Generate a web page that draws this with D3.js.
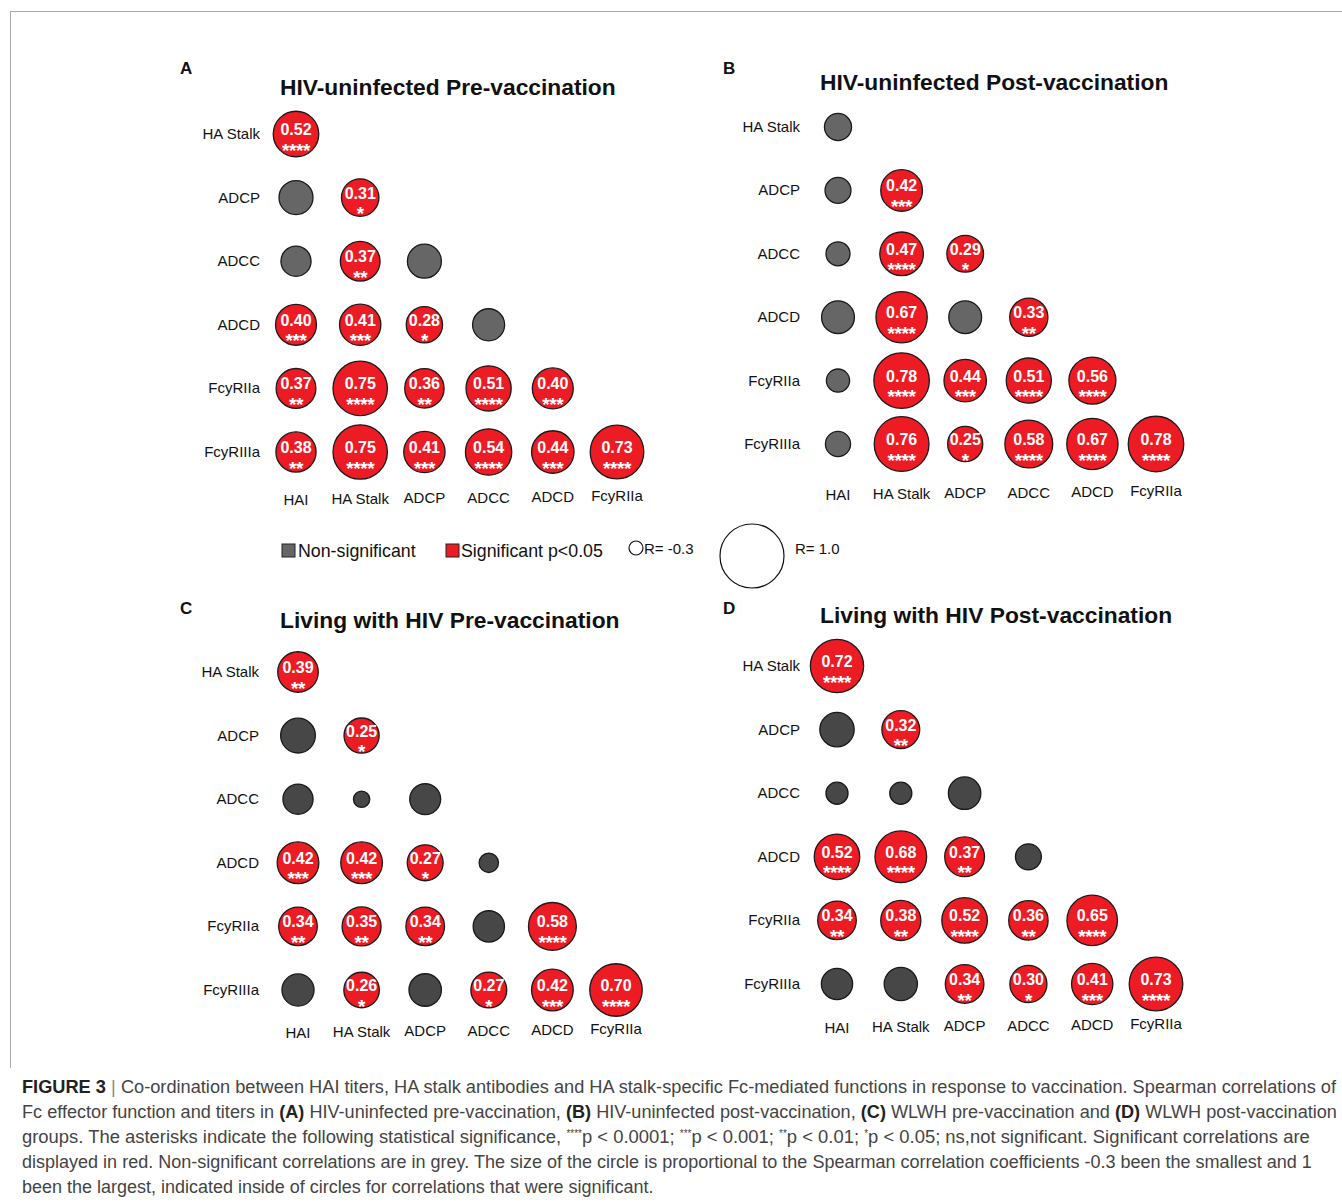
<!DOCTYPE html>
<html>
<head>
<meta charset="utf-8">
<script src="https://cdn.jsdelivr.net/npm/d3@7"></script>
<style>
  html, body { margin: 0; padding: 0; background: #fff; }
  svg { display: block; }
</style>
</head>
<body>
<svg id="chart" width="1342" height="1203"></svg>
<script>
// ---------- DATA ----------
const rowLabels = ["HA Stalk", "ADCP", "ADCC", "ADCD", "FcyRIIa", "FcyRIIIa"];
const colLabels = ["HAI", "HA Stalk", "ADCP", "ADCC", "ADCD", "FcyRIIa"];

const panelLetters = ["A", "B", "C", "D"];
const panelTitles = [
  "HIV-uninfected Pre-vaccination",
  "HIV-uninfected Post-vaccination",
  "Living with HIV Pre-vaccination",
  "Living with HIV Post-vaccination"
];

// Spearman R (lower triangle, row by row). Non-significant values estimated from circle size.
const valuesA = [
  [0.52],
  [0.22, 0.31],
  [0.12, 0.37, 0.22],
  [0.40, 0.41, 0.28, 0.17],
  [0.37, 0.75, 0.36, 0.51, 0.40],
  [0.38, 0.75, 0.41, 0.54, 0.44, 0.73]
];
const starsA = [
  [4],
  [0, 1],
  [0, 2, 0],
  [3, 3, 1, 0],
  [2, 4, 2, 4, 3],
  [2, 4, 3, 4, 3, 4]
];
const valuesB = [
  [0.04],
  [0.01, 0.42],
  [-0.04, 0.47, 0.29],
  [0.19, 0.67, 0.19, 0.33],
  [-0.06, 0.78, 0.44, 0.51, 0.56],
  [-0.01, 0.76, 0.25, 0.58, 0.67, 0.78]
];
const starsB = [
  [0],
  [0, 3],
  [0, 4, 1],
  [0, 4, 0, 2],
  [0, 4, 3, 4, 4],
  [0, 4, 1, 4, 4, 4]
];
const valuesC = [
  [0.39],
  [0.24, 0.25],
  [0.12, -0.24, 0.14],
  [0.42, 0.42, 0.27, -0.16],
  [0.34, 0.35, 0.34, 0.15, 0.58],
  [0.17, 0.26, 0.18, 0.27, 0.42, 0.70]
];
const starsC = [
  [2],
  [0, 1],
  [0, 0, 0],
  [3, 3, 1, 0],
  [2, 2, 2, 0, 4],
  [0, 1, 0, 1, 3, 4]
];
const valuesD = [
  [0.72],
  [0.23, 0.32],
  [-0.09, -0.09, 0.18],
  [0.52, 0.68, 0.37, 0.01],
  [0.34, 0.38, 0.52, 0.36, 0.65],
  [0.15, 0.20, 0.34, 0.30, 0.41, 0.73]
];
const starsD = [
  [4],
  [0, 2],
  [0, 0, 0],
  [4, 4, 2, 0],
  [2, 2, 4, 2, 4],
  [0, 0, 2, 1, 3, 4]
];

const legendLabels = ["Non-significant", "Significant p<0.05"];
const legendSizeValues = [-0.3, 1.0];
const sizeDomain = [-0.3, 1.0];

// ---------- LAYOUT ----------
const FONT = "'Liberation Sans', Arial, Helvetica, sans-serif";
const RED = "#ED1C24";
const GREY_TOP = "#666666";
const GREY_BOT = "#474747";

const panelLayout = [
  { x: [296, 617], y: [134, 452], title: [280, 95], letter: [180, 74], colY: 505, rowX: 260, grey: GREY_TOP },
  { x: [838, 1156], y: [127, 444], title: [820, 90], letter: [723, 74], colY: 500, rowX: 800, grey: GREY_TOP },
  { x: [298, 616], y: [672, 990], title: [280, 628], letter: [180, 614], colY: 1038, rowX: 259, grey: GREY_BOT },
  { x: [837, 1156], y: [666, 984], title: [820, 623], letter: [723, 614], colY: 1033, rowX: 800, grey: GREY_BOT }
];

const panelValues = [valuesA, valuesB, valuesC, valuesD];
const panelStars = [starsA, starsB, starsC, starsD];

const svg = d3.select("#chart");
const r = d3.scaleLinear().domain(sizeDomain).range([7, 32]);

// frame
svg.append("line").attr("x1", 10).attr("x2", 1342).attr("y1", 11.5).attr("y2", 11.5)
  .attr("stroke", "#aaaaaa").attr("stroke-width", 1);
svg.append("line").attr("x1", 10.5).attr("x2", 10.5).attr("y1", 11).attr("y2", 1068)
  .attr("stroke", "#aaaaaa").attr("stroke-width", 1);

panelLayout.forEach((L, p) => {
  const g = svg.append("g");
  const x = d3.scalePoint().domain(colLabels).range(L.x);
  const y = d3.scalePoint().domain(rowLabels).range(L.y);

  g.append("text").attr("x", L.letter[0]).attr("y", L.letter[1])
    .attr("font-family", FONT).attr("font-weight", "bold").attr("font-size", 17)
    .attr("fill", "#111").text(panelLetters[p]);

  g.append("text").attr("x", L.title[0]).attr("y", L.title[1])
    .attr("font-family", FONT).attr("font-weight", "bold").attr("font-size", 22.8)
    .attr("fill", "#111").text(panelTitles[p]);

  // row labels (y axis)
  g.selectAll(".rowlab").data(rowLabels).enter().append("text")
    .attr("x", L.rowX).attr("y", d => y(d) + 5)
    .attr("text-anchor", "end")
    .attr("font-family", FONT).attr("font-size", 15).attr("fill", "#111")
    .text(d => d);

  // column labels (x axis)
  g.selectAll(".collab").data(colLabels).enter().append("text")
    .attr("x", d => x(d)).attr("y", (d, i) => L.colY - i * 0.8)
    .attr("text-anchor", "middle")
    .attr("font-family", FONT).attr("font-size", 15).attr("fill", "#111")
    .text(d => d);

  const cells = [];
  panelValues[p].forEach((row, i) => {
    row.forEach((v, j) => {
      cells.push({ row: rowLabels[i], col: colLabels[j], v: v, s: panelStars[p][i][j] });
    });
  });

  const cg = g.selectAll(".cell").data(cells).enter().append("g")
    .attr("transform", d => `translate(${x(d.col)},${y(d.row)})`);

  cg.append("circle")
    .attr("r", d => r(d.v))
    .attr("fill", d => d.s > 0 ? RED : L.grey)
    .attr("stroke", "#1a1a1a").attr("stroke-width", 1.3);

  const sig = cg.filter(d => d.s > 0);
  sig.append("text").attr("y", 1).attr("text-anchor", "middle")
    .attr("font-family", FONT).attr("font-weight", "bold").attr("font-size", 16)
    .attr("fill", "#fff").text(d => d.v.toFixed(2));
  sig.append("text").attr("y", 22.5).attr("text-anchor", "middle")
    .attr("font-family", FONT).attr("font-weight", "bold").attr("font-size", 19)
    .attr("letter-spacing", -0.4)
    .attr("fill", "#fff").text(d => "*".repeat(d.s));
});

// ---------- LEGEND ----------
const lg = svg.append("g");
lg.append("rect").attr("x", 282).attr("y", 544).attr("width", 13).attr("height", 13)
  .attr("fill", GREY_TOP).attr("stroke", "#222").attr("stroke-width", 1);
lg.append("text").attr("x", 298).attr("y", 557).attr("font-family", FONT).attr("font-size", 17.8)
  .attr("fill", "#111").text(legendLabels[0]);
lg.append("rect").attr("x", 446).attr("y", 544).attr("width", 13).attr("height", 13)
  .attr("fill", RED).attr("stroke", "#222").attr("stroke-width", 1);
lg.append("text").attr("x", 461).attr("y", 557).attr("font-family", FONT).attr("font-size", 17.8)
  .attr("fill", "#111").text(legendLabels[1]);

lg.append("circle").attr("cx", 636).attr("cy", 548).attr("r", r(legendSizeValues[0]))
  .attr("fill", "none").attr("stroke", "#111").attr("stroke-width", 1.2);
lg.append("text").attr("x", 644).attr("y", 554).attr("font-family", FONT).attr("font-size", 15)
  .attr("fill", "#111").text("R= " + legendSizeValues[0].toFixed(1));
lg.append("circle").attr("cx", 752).attr("cy", 556).attr("r", r(legendSizeValues[1]))
  .attr("fill", "none").attr("stroke", "#111").attr("stroke-width", 1.2);
lg.append("text").attr("x", 795).attr("y", 554).attr("font-family", FONT).attr("font-size", 15)
  .attr("fill", "#111").text("R= " + legendSizeValues[1].toFixed(1));

// ---------- CAPTION ----------
const captionLines = [
  { w: 1315, parts: [["FIGURE 3", "b"], [" | ", "sep"], ["Co-ordination between HAI titers, HA stalk antibodies and HA stalk-specific Fc-mediated functions in response to vaccination. Spearman correlations of", ""]] },
  { w: 1315, parts: [["Fc effector function and titers in ", ""], ["(A)", "b"], [" HIV-uninfected pre-vaccination, ", ""], ["(B)", "b"], [" HIV-uninfected post-vaccination, ", ""], ["(C)", "b"], [" WLWH pre-vaccination and ", ""], ["(D)", "b"], [" WLWH post-vaccination", ""]] },
  { w: 1288, parts: [["groups. The asterisks indicate the following statistical significance, ", ""], ["****", "sup"], ["p < 0.0001; ", ""], ["***", "sup"], ["p < 0.001; ", ""], ["**", "sup"], ["p < 0.01; ", ""], ["*", "sup"], ["p < 0.05; ns,not significant. Significant correlations are", ""]] },
  { w: 1291, parts: [["displayed in red. Non-significant correlations are in grey. The size of the circle is proportional to the Spearman correlation coefficients -0.3 been the smallest and 1", ""]] },
  { w: 632, parts: [["been the largest, indicated inside of circles for correlations that were significant.", ""]] }
];
captionLines.forEach((ln, i) => {
  const outer = svg.append("g").attr("transform", `translate(22,${1093 + i * 25})`);
  const inner = outer.append("g");
  let cx = 0;
  ln.parts.forEach(([txt, kind]) => {
    const t = inner.append("text").attr("x", cx).attr("y", kind === "sup" ? -6 : 0)
      .attr("font-family", FONT).attr("font-size", kind === "sup" ? 10 : 18.5)
      .attr("fill", "#444").style("white-space", "pre").text(txt);
    if (kind === "b") t.attr("font-weight", "bold").attr("fill", "#222");
    if (kind === "sep") t.attr("fill", "#888");
    cx += t.node().getComputedTextLength();
  });
  const s = ln.w / cx;
  inner.attr("transform", `scale(${s},1)`);
});
</script>
</body>
</html>
